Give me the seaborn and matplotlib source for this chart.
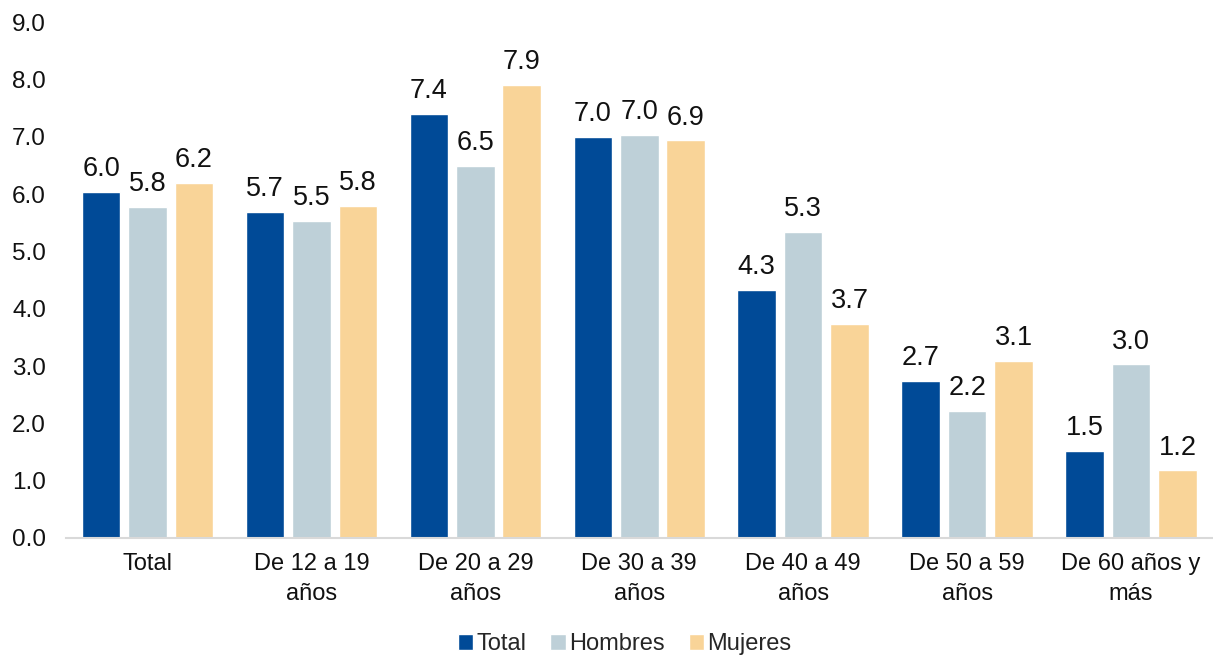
import matplotlib
matplotlib.use("Agg")
import matplotlib.pyplot as plt
import seaborn as sns
import pandas as pd
from matplotlib.ticker import FormatStrFormatter
from matplotlib.patches import Patch

categorias = ["Total", "De 12 a 19\naños", "De 20 a 29\naños", "De 30 a 39\naños",
              "De 40 a 49\naños", "De 50 a 59\naños", "De 60 años y\nmás"]
series = ["Total", "Hombres", "Mujeres"]
total = [6.04, 5.69, 7.40, 7.00, 4.33, 2.74, 1.52]
hombres = [5.78, 5.54, 6.49, 7.04, 5.34, 2.22, 3.03]
mujeres = [6.20, 5.79, 7.91, 6.94, 3.74, 3.09, 1.18]
colores = ["#004A97", "#BED0D8", "#F9D498"]

df = pd.DataFrame({
    "categoria": categorias * 3,
    "serie": [s for s in series for _ in categorias],
    "valor": total + hombres + mujeres,
})

sns.set_theme(style="white")
plt.rcParams["font.family"] = ["Liberation Sans", "DejaVu Sans"]

fig = plt.figure(figsize=(12.13, 6.56), dpi=100)
ax = fig.add_axes([0.054, 0.18, 0.946, 0.786])

sns.barplot(data=df, x="categoria", y="valor", hue="serie", hue_order=series,
            palette=colores, width=0.85, gap=0.17, ax=ax, legend=False,
            saturation=1, errorbar=None)

for cont in ax.containers:
    ax.bar_label(cont, fmt="%.1f", padding=7, fontsize=19.5, color="#111111")

ax.set_ylim(0, 9)
ax.set_xlim(-0.5, 6.5)
ax.set_yticks(range(0, 10))
ax.yaxis.set_major_formatter(FormatStrFormatter("%.1f"))
ax.tick_params(axis="y", labelsize=17.5, length=0, pad=14, labelcolor="#111111")
ax.tick_params(axis="x", labelsize=17, length=0, pad=11, labelcolor="#111111")
for t in ax.get_xticklabels():
    t.set_linespacing(1.45)
ax.set_xlabel("")
ax.set_ylabel("")
for s in ["top", "right", "left"]:
    ax.spines[s].set_visible(False)
ax.spines["bottom"].set_color("#D9D9D9")
ax.spines["bottom"].set_linewidth(1.5)

handles = [Patch(facecolor=c, label=s) for c, s in zip(colores, series)]
fig.legend(handles=handles, loc="center", bbox_to_anchor=(0.515, 0.018), ncol=3,
           frameon=False, fontsize=17, handlelength=0.65, handleheight=0.65,
           handletextpad=0.15, columnspacing=1.0)

fig.savefig("out.png", dpi=100)
